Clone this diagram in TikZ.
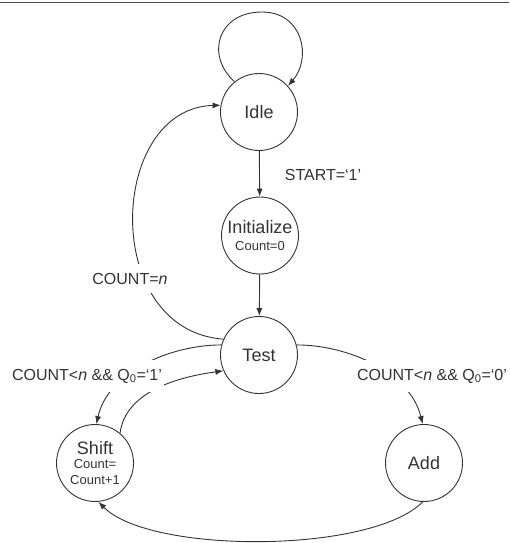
\documentclass[tikz,border=0pt]{standalone}
\usepackage{fontspec}
\setmainfont{Liberation Sans}
\usetikzlibrary{arrows.meta}
\definecolor{ink}{HTML}{333333}
\begin{document}
\begin{tikzpicture}[x=1pt,y=-1pt,
  state/.style={circle,draw=ink,line width=0.9pt,minimum size=77pt,inner sep=0pt,text=ink,align=center,font=\fontsize{18}{16}\selectfont},
  edge/.style={draw=ink,line width=0.9pt,-{Latex[length=8pt,width=6pt]}},
  elabel/.style={fill=white,text=ink,inner xsep=2pt,inner ysep=9pt,anchor=base,font=\fontsize{16}{18}\selectfont},
  rule/.style={draw=black!70,line width=1.5pt}]
\useasboundingbox (0,0) rectangle (509,543);
\coordinate (rl) at (0,2.5);
\coordinate (rr) at (509,2.5);
\draw[rule] (rl) -- (rr);
% states
\node[state] (idle) at (259,112) {Idle};
\node[state] (init) at (260,235.5) {Initialize\\[1pt]{\fontsize{13}{15}\selectfont Count=0}};
\node[state] (test) at (259,355) {Test};
\node[state] (shift) at (95,463) {Shift\\[-2pt]{\fontsize{13}{15}\selectfont Count=}\\{\fontsize{13}{15}\selectfont Count+1}};
\node[state] (add) at (424,463) {Add};
% transitions
\draw[edge] (idle.129) .. controls (205,55) and (218,12) .. (262,12) .. controls (303,12) and (312,58) .. (idle.42);
\draw[edge] (idle) -- (init);
\draw[edge] (init) -- (test);
\draw[edge] (test.156) .. controls (100,330) and (108,108) .. (idle.170);
\draw[edge] (test.165) .. controls (170,345) and (108,372) .. (shift.88);
\draw[edge] (shift.50) .. controls (125,395) and (170,378) .. (test.204);
\draw[edge] (test.15) .. controls (348,345) and (410,372) .. (add.92);
\draw[edge] (add.268) .. controls (371,554) and (150,554) .. (shift.275);
% labels
\node[elabel,fill=none] (lstart) at (323,180) {START=‘1’};
\node[elabel] (lcount) at (130,284) {COUNT=\textit{n}};
\node[elabel] (lq1) at (87,380) {COUNT<\textit{n} \&\& Q\textsubscript{0}=‘1’};
\node[elabel] (lq0) at (432,380) {COUNT<\textit{n} \&\& Q\textsubscript{0}=‘0’};
\end{tikzpicture}
\end{document}
